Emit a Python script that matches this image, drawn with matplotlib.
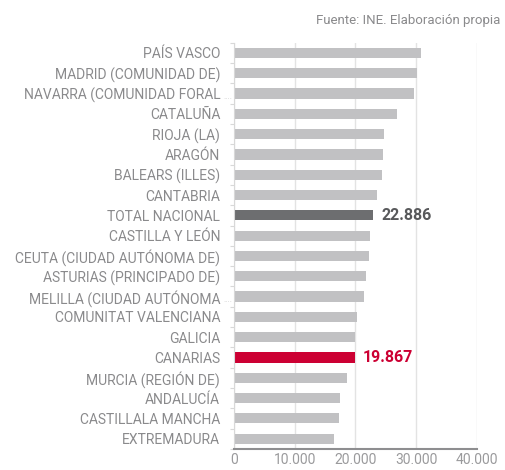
import matplotlib.pyplot as plt
from matplotlib.ticker import FuncFormatter, FixedLocator

plt.rcParams['font.family'] = ['Roboto', 'DejaVu Sans']

regions = ["PAÍS VASCO", "MADRID (COMUNIDAD DE)", "NAVARRA (COMUNIDAD FORAL",
           "CATALUÑA", "RIOJA (LA)", "ARAGÓN", "BALEARS (ILLES)", "CANTABRIA",
           "TOTAL NACIONAL", "CASTILLA Y LEÓN", "CEUTA (CIUDAD AUTÓNOMA DE)",
           "ASTURIAS (PRINCIPADO DE)", "MELILLA (CIUDAD AUTÓNOMA",
           "COMUNITAT VALENCIANA", "GALICIA", "CANARIAS", "MURCIA (REGIÓN DE)",
           "ANDALUCÍA", "CASTILLALA MANCHA", "EXTREMADURA"]
values = [30760, 30100, 29600, 26860, 24770, 24600, 24430, 23500,
          22886, 22350, 22190, 21740, 21410, 20250, 19930, 19867,
          18670, 17520, 17240, 16420]
truncated = ["NAVARRA (COMUNIDAD FORAL", "MELILLA (CIUDAD AUTÓNOMA"]
highlight = {"TOTAL NACIONAL": "#6d6e70", "CANARIAS": "#cc0033"}
xticks = [0, 10000, 20000, 30000, 40000]

fig = plt.figure(figsize=(5.06, 4.7), dpi=100)
ax = fig.add_axes([0.4625, 0.045, 0.48, 0.864])

colors = [highlight.get(r, "#c1c1c3") for r in regions]
y = list(range(len(regions)))
ax.barh(y, values, height=0.5, color=colors, zorder=2)

for i, (r, v) in enumerate(zip(regions, values)):
    if r in highlight:
        ax.text(v + 1400, i, f"{v:,}".replace(",", "."), va="center", ha="left",
                fontsize=11.5, fontweight="bold",
                color=highlight[r] if r == "CANARIAS" else "#58595b")
    if r in truncated:
        ax.text(-250, i + 0.15, "....", va="center", ha="right",
                fontsize=6, color="#cfcfcf")

ax.set_ylim(len(regions) - 0.5, -0.5)
ax.set_xlim(0, 40000)
ax.set_yticks(y)
ax.set_yticklabels(regions, fontsize=10, color="#8a8a8c")
ax.tick_params(axis="y", length=0, pad=10)
ax.yaxis.set_minor_locator(FixedLocator([i + 0.5 for i in range(-1, len(regions))]))
ax.tick_params(axis="y", which="minor", length=3, color="#d8d8d8", width=0.8)

ax.xaxis.set_major_locator(FixedLocator(xticks))
ax.xaxis.set_major_formatter(FuncFormatter(lambda v, p: f"{int(v):,}".replace(",", ".")))
ax.tick_params(axis="x", length=0, pad=3, labelsize=10, labelcolor="#9a9a9c")
ax.grid(axis="x", color="#e3e3e3", linewidth=1, zorder=0)

ax.spines["top"].set_visible(False)
ax.spines["right"].set_visible(False)
ax.spines["left"].set_color("#d8d8d8")
ax.spines["bottom"].set_color("#8e8e90")
ax.spines["bottom"].set_linewidth(1.5)

fig.text(0.988, 0.957, "Fuente: INE. Elaboración propia", ha="right", va="center",
         fontsize=9.5, color="#8a8a8c")

fig.savefig("out.png", dpi=100)
